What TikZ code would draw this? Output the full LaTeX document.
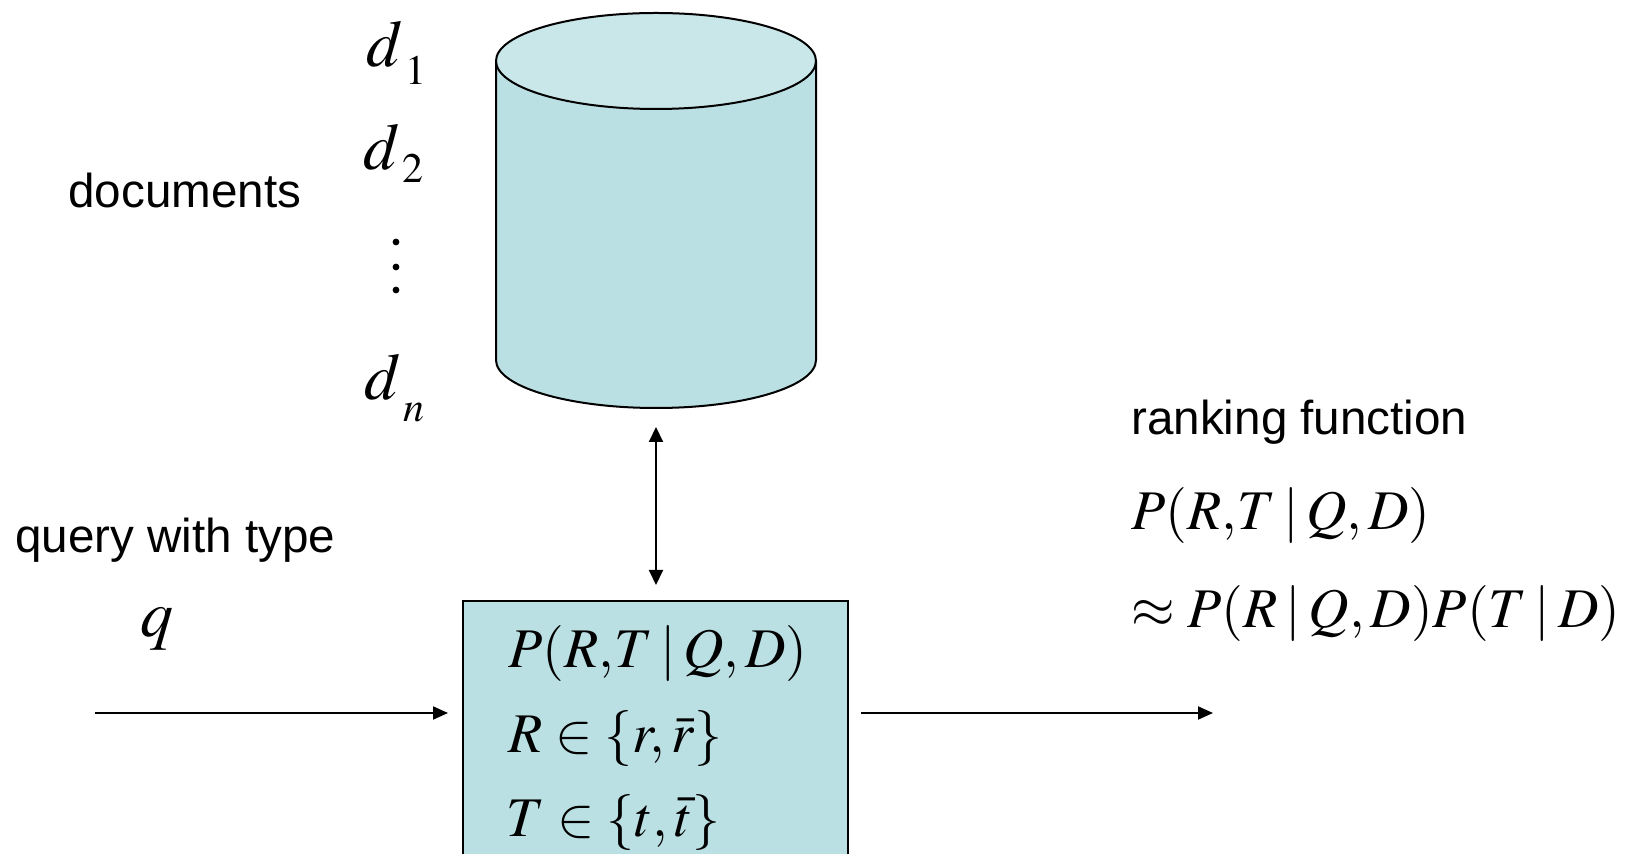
\documentclass[tikz,border=0pt]{standalone}
\usepackage{fontspec}
\usepackage{mathptmx}
\usetikzlibrary{arrows.meta}
\newfontfamily\arial{Liberation Sans}
\definecolor{cylbody}{HTML}{BBE0E3}
\definecolor{cyltop}{HTML}{C9E6E9}
\newcommand{\myTxtFont}{\arial\fontsize{23.8pt}{28pt}\selectfont}
\newcommand{\myMathFont}{\fontsize{28pt}{32pt}\selectfont}
\newcommand{\myDFont}{\fontsize{33pt}{36pt}\selectfont}
\newcommand{\mySubFont}{\fontsize{21pt}{24pt}\selectfont}
\newcommand{\myBar}{\mskip2.5mu|\mskip2.5mu}
\tikzset{
  lbl/.style={anchor=base west, inner sep=0pt, font=\myTxtFont},
  mth/.style={anchor=base west, inner sep=0pt, font=\myMathFont},
  dlbl/.style={anchor=base west, inner sep=0pt, font=\myDFont},
  conn/.style={line width=1pt, -{Triangle[length=7.5pt,width=6.5pt]}},
  dconn/.style={line width=1pt, {Triangle[length=7.5pt,width=7pt]}-{Triangle[length=7.5pt,width=7pt]}},
}
\begin{document}
\begin{tikzpicture}[x=0.5pt,y=-0.5pt]
\useasboundingbox (0,0) rectangle (1628,854);
% cylinder
\fill[cylbody] (496,61) -- (496,360) arc[start angle=180,end angle=0,x radius=160,y radius=48] -- (816,61) -- cycle;
\draw[line width=1pt] (496,61) -- (496,360) arc[start angle=180,end angle=0,x radius=160,y radius=48] -- (816,61);
\draw[line width=1pt, fill=cyltop] (656,61) ellipse[x radius=160,y radius=48];
\coordinate (cylbot) at (656,427);
% box
\draw[line width=1pt, fill=cylbody] (463,601) rectangle (848,880);
\coordinate (boxtop) at (656,585);
\coordinate (inL) at (95,713);
\coordinate (inR) at (448,713);
\coordinate (outL) at (861,713);
\coordinate (outR) at (1213,713);
\draw[dconn] (cylbot) -- (boxtop);
\draw[conn] (inL) -- (inR);
\draw[conn] (outL) -- (outR);
% labels
\node[lbl] (docs) at (68,208) {documents};
\node[lbl] (query) at (15,553) {query with type};
\node[lbl] (rank) at (1131,435) {ranking function};
\node[dlbl] (q) at (140,637) {$q$};
\node[dlbl] (d1) at (366,67) {$d$\hspace{1.5pt}\raisebox{-9pt}{\mySubFont$1$}};
\node[dlbl] (d2) at (363,170) {$d$\hspace{1.5pt}\raisebox{-6.5pt}{\mySubFont$2$}};
\node[dlbl] (dn) at (364,400) {$d$\hspace{1.5pt}\raisebox{-11pt}{\mySubFont$n$}};
\foreach \yy/\nm in {242/a,267/b,290/c} \fill (396,\yy) circle[radius=3.4] coordinate (dot\nm);
\node[mth] (f1) at (508,668) {$P(R{,}T\myBar Q,D)$};
\node[mth] (f2) at (508,753) {$R\in\{r,\bar{r}\}$};
\node[mth] (f3) at (506,837) {$T\in\{t,\bar{t}\}$};
\node[mth] (g1) at (1131,530) {$P(R{,}T\myBar Q,D)$};
\node[mth] (g2) at (1131,628) {$\approx P(R\myBar Q,D)P(T\myBar D)$};
\end{tikzpicture}
\end{document}
